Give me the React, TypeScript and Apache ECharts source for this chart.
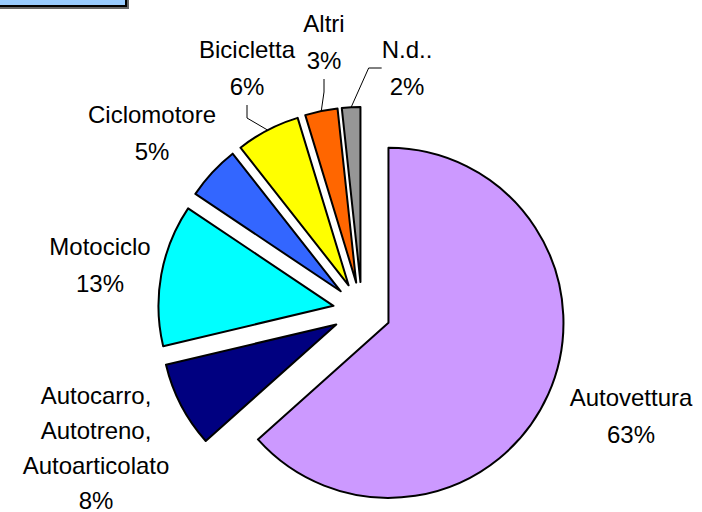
import React, { useEffect, useRef } from 'react';
import * as echarts from 'echarts';

const categories = [
  'Autovettura',
  'Autocarro,\nAutotreno,\nAutoarticolato',
  'Motociclo',
  'Ciclomotore',
  'Bicicletta',
  'Altri',
  'N.d..',
];
const shares = [63.4, 7.9, 13.1, 5.0, 5.9, 3.0, 1.7];
const colors = ['#CC99FF', '#000080', '#00FFFF', '#3366FF', '#FFFF00', '#FF6600', '#969696'];
const leaderShown = [false, false, false, false, true, true, true];

// label block centres (layout only)
const labelCenters: number[][] = [
  [631, 416],
  [96, 448],
  [100, 265],
  [152, 133],
  [247, 68],
  [324, 42],
  [407, 68],
];

export default function App() {
  const ref = useRef<HTMLDivElement>(null);
  useEffect(() => {
    if (!ref.current) return;
    const chart = echarts.init(ref.current, undefined, { renderer: 'svg' });
    const font = 'Arial, "Liberation Sans", sans-serif';
    const center = [362, 311];
    const radius = 175;
    const explode = 29;
    chart.setOption({
      animation: false,
      backgroundColor: '#ffffff',
      graphic: [
        {
          type: 'rect',
          shape: { x: -3, y: -20, width: 129, height: 26 },
          style: {
            fill: '#99CCFF',
            stroke: '#000000',
            lineWidth: 2,
            shadowColor: 'rgba(0,0,0,0.6)',
            shadowOffsetX: 2,
            shadowOffsetY: 2,
            shadowBlur: 0,
          },
          silent: true,
        },
      ],
      series: [
        // label carrier: invisible pie reaching the exploded outer edge
        {
          type: 'pie',
          center,
          radius: radius + explode,
          startAngle: 90,
          clockwise: true,
          avoidLabelOverlap: false,
          silent: true,
          emphasis: { disabled: true },
          itemStyle: { color: 'rgba(0,0,0,0)', borderWidth: 0 },
          label: {
            show: true,
            position: 'outside',
            formatter: (p: any) => `${p.name}\n${Math.round(p.value)}%`,
            fontSize: 24,
            lineHeight: 37,
            color: '#000000',
            fontFamily: font,
            align: 'center',
          },
          labelLine: {
            show: true,
            length: 10,
            length2: 13,
            smooth: false,
            lineStyle: { color: '#000000', width: 1 },
          },
          labelLayout: (params: any) => {
            const c = labelCenters[params.dataIndex];
            return { x: c[0], y: c[1], align: 'center', verticalAlign: 'middle' };
          },
          data: categories.map((name, i) => ({
            name,
            value: shares[i],
            labelLine: { show: leaderShown[i] },
            label: i === 1 ? { lineHeight: 35 } : undefined,
          })),
        },
        // exploded slices
        {
          type: 'pie',
          center,
          radius,
          startAngle: 90,
          clockwise: true,
          selectedMode: 'multiple',
          selectedOffset: explode,
          silent: true,
          emphasis: { disabled: true },
          itemStyle: { borderColor: '#000000', borderWidth: 2 },
          label: { show: false },
          labelLine: { show: false },
          data: categories.map((name, i) => ({
            name,
            value: shares[i],
            selected: true,
            itemStyle: { color: colors[i] },
          })),
        },
      ],
    });
    return () => chart.dispose();
  }, []);
  return (
    <div
      ref={ref}
      style={{ position: 'absolute', left: 0, top: 0, width: 702, height: 512 }}
    />
  );
}
